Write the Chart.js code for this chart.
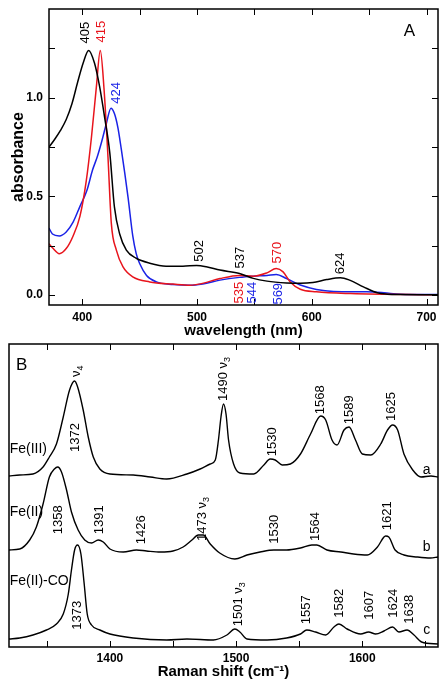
<!DOCTYPE html>
<html>
<head>
<meta charset="utf-8">
<script src="https://cdn.jsdelivr.net/npm/chart.js@4"></script>
<style>
  body { margin: 0; background: #fff; }
  canvas { display: block; }
</style>
</head>
<body>
<canvas id="uvChart" width="448" height="342"></canvas>
<canvas id="ramanChart" width="448" height="348"></canvas>
<script>
// ---- panel A: absorbance spectra ----
const wlBlack = [371,376,381,386,391,396,401,405.5,410.7,415,419.5,424,428,432.6,438.4,447,458.8,473,487.7,499.6,508,520,537,549,561,578,590,601,613,625,633,645,657,666,677,710];
const absBlack = [0.75,0.79,0.835,0.89,0.97,1.08,1.18,1.24,1.175,1.06,0.90,0.72,0.447,0.31,0.228,0.187,0.162,0.147,0.147,0.15,0.144,0.127,0.11,0.085,0.071,0.062,0.06,0.064,0.079,0.088,0.076,0.042,0.012,0.005,0.003,0.002];

const wlRed = [371,374,380,386,392,398,403.5,408,412.2,415.7,418.9,422.4,425.3,429.7,435.5,444,458.8,479,494,503,520,537,549,561,569,575,581,590,604,634,710];
const absRed = [0.26,0.24,0.21,0.236,0.30,0.40,0.58,0.80,1.05,1.24,1.05,0.70,0.365,0.228,0.143,0.093,0.067,0.056,0.05,0.057,0.084,0.10,0.096,0.113,0.135,0.118,0.068,0.03,0.017,0.008,0.002];

const wlBlue = [371,374,380,386,392,398,404,409,413,417,421,425,428,431,434,437,440,444,447,450,456,464.6,479,494,505,520,537,549,561,569,578,590,604,619,648,663,677,710];
const absBlue = [0.34,0.31,0.30,0.32,0.37,0.45,0.53,0.635,0.70,0.78,0.87,0.947,0.92,0.85,0.74,0.62,0.49,0.30,0.21,0.16,0.10,0.067,0.054,0.05,0.057,0.076,0.09,0.096,0.10,0.105,0.084,0.051,0.029,0.019,0.017,0.012,0.005,0.003];

const wlTicks = [400, 500, 600, 700];
const wlMinorTicks = [400, 450, 500, 550, 600, 650, 700];
const absTicks = [0, 0.5, 1.0];
const absMinorTicks = [0, 0.25, 0.5, 0.75, 1.0, 1.25];

// peak labels (text, position in data units, which curve, above/below)
const uvPeakText = ['405', '415', '424', '502', '537', '570', '624', '535', '544', '569'];
const uvPeakX = [403, 417, 430, 502, 538, 570, 625, 537, 548.5, 571];
const uvPeakY = [1.275, 1.28, 0.97, 0.169, 0.135, 0.16, 0.106, 0.068, 0.068, 0.062];
const uvPeakCurve = [0, 1, 2, 0, 0, 1, 0, 1, 2, 2];
const uvPeakSide = ['up', 'up', 'up', 'up', 'up', 'up', 'up', 'down', 'down', 'down'];

// ---- panel B: resonance Raman, offset traces ----
const shiftA = [1320,1328.5,1339,1347,1352,1357.6,1363,1368,1372,1374.4,1378.8,1382.8,1386.8,1392,1400,1418.5,1432,1445,1461,1471.5,1479.5,1483.5,1486,1488,1490,1492,1494,1498,1503,1514,1522,1527,1531,1536.5,1543,1551,1559,1567,1571,1576,1580,1585.5,1589.5,1594.6,1600,1606.7,1614.6,1620,1624,1628,1633,1640,1646.5,1654.4,1660];
const intA = [171,172,173,180,190,203,230,257,266,260,237,210,190,178,173,172,170,168,173,178,183,187,207,230,243,233,207,183,174,173,182,188,187,182,183,193,213,231,227,207,202,217,220,207,193,192,203,217,222,217,193,177,170,171,170];

const shiftB = [1320,1328.5,1336.4,1341.7,1347,1352,1356,1358.6,1361.6,1365.6,1369.5,1374.8,1380,1385.4,1390.7,1394.7,1400,1410.6,1421,1429,1440,1450,1458,1465,1470,1474,1479.5,1487,1499,1508.6,1519,1530,1540,1551,1560,1564,1572,1583,1593,1604,1612,1618.5,1621,1626,1633,1643.6,1654,1660];
const intB = [97,98,107,120,143,170,178,180,175,157,135,117,107,104,107,105,98,95,97,96,95,96,100,107,112,112,103,94,88,92,95,97,97,99,102,102,97,95,93,92,100,111,110,97,92,90,89,90];

const shiftC = [1320,1328.5,1339,1349.7,1357.6,1363,1367,1369.5,1372,1374.3,1377,1379.6,1382,1385.4,1392,1400,1418.5,1445,1461,1482,1492.7,1499,1503,1508.6,1524.5,1540,1551,1556,1563,1571,1577.5,1581.5,1588,1598.7,1605,1610.6,1617.2,1624,1629,1635.5,1641,1647,1660];
const intC = [8,9,12,17,23,33,53,77,97,102,93,63,33,22,17,13,9,7,8,7,12,18,15,8,7,9,13,17,15,12,20,23,18,13,15,13,16,20,15,17,12,5,3];

const ramanTicks = [1400, 1500, 1600];
const ramanMinorTicks = [1350, 1400, 1450, 1500, 1550, 1600, 1650];

const ramanPeakText = ['ν4','1372','1490 ν3','1530','1568','1589','1625','1358','1391','1426','1473 ν3','1530','1564','1621','1373','1501 ν3','1557','1582','1607','1624','1638'];
const ramanPeakX = [1373.5,1373,1490,1528.5,1567,1589.5,1623,1359,1391.5,1425,1473,1530,1563,1620,1374,1502,1556,1581.5,1606,1625,1637];
const ramanPeakY = [270,195,246,190.7,232.7,222.7,226,112.7,112.7,102.7,106,103.3,106,116.7,17.3,20.7,22.7,29.3,27.3,29.3,23.3];

const traceNames = ['Fe(III)', 'Fe(II)', 'Fe(II)-CO'];
const traceNameY = [198.3, 135, 66];
const traceTags = ['a', 'b', 'c'];
const traceTagY = [176.7, 100, 17.3];

const FONT = '"Liberation Sans", Arial, sans-serif';
const curveColors = ['#000000', '#e8141c', '#1a22e6'];

Chart.defaults.font.family = FONT;
Chart.defaults.color = '#000';

const pts = (xs, ys) => xs.map((x, i) => ({ x: x, y: ys[i] }));

// box round the plot with inward ticks on all sides
const frameTicks = {
  id: 'frameTicks',
  afterDatasetsDraw(chart, args, opts) {
    const { ctx, chartArea: a, scales } = chart;
    const len = opts.len;
    ctx.save();
    ctx.strokeStyle = '#000';
    ctx.lineWidth = 1;
    ctx.beginPath();
    (opts.xTicks || []).forEach(v => {
      const p = Math.round(scales.x.getPixelForValue(v)) + 0.5;
      ctx.moveTo(p, a.bottom); ctx.lineTo(p, a.bottom - len);
      ctx.moveTo(p, a.top); ctx.lineTo(p, a.top + len);
    });
    (opts.yTicks || []).forEach(v => {
      const p = Math.round(scales.y.getPixelForValue(v)) + 0.5;
      ctx.moveTo(a.left, p); ctx.lineTo(a.left + len, p);
      ctx.moveTo(a.right, p); ctx.lineTo(a.right - len, p);
    });
    ctx.stroke();
    ctx.lineWidth = 1.5;
    ctx.strokeRect(a.left, a.top, a.right - a.left, a.bottom - a.top);
    ctx.restore();
  }
};

function drawRotated(ctx, text, x, y, side, size) {
  const m = text.match(/^(.*ν)(\d)$/);
  const main = m ? m[1] : text;
  const sub = m ? m[2] : '';
  ctx.save();
  ctx.translate(x, y);
  ctx.rotate(-Math.PI / 2);
  ctx.textBaseline = 'middle';
  ctx.textAlign = 'left';
  ctx.font = size + 'px ' + FONT;
  const wMain = ctx.measureText(main).width;
  ctx.font = Math.round(size * 0.7) + 'px ' + FONT;
  const wSub = sub ? ctx.measureText(sub).width : 0;
  const start = side === 'down' ? -(wMain + wSub) : 0;
  ctx.font = size + 'px ' + FONT;
  ctx.fillText(main, start, 0);
  if (sub) {
    ctx.font = Math.round(size * 0.7) + 'px ' + FONT;
    ctx.fillText(sub, start + wMain, 4);
  }
  ctx.restore();
}

const textLabels = {
  id: 'textLabels',
  afterDatasetsDraw(chart, args, opts) {
    const { ctx, scales } = chart;
    (opts.rotated || []).forEach(it => {
      ctx.fillStyle = it.color;
      drawRotated(ctx, it.text, scales.x.getPixelForValue(it.x), scales.y.getPixelForValue(it.y), it.side, opts.size);
    });
    (opts.flat || []).forEach(it => {
      ctx.save();
      ctx.fillStyle = '#000';
      ctx.font = it.size + 'px ' + FONT;
      ctx.textAlign = it.align;
      ctx.textBaseline = 'middle';
      ctx.fillText(it.text, scales.x.getPixelForValue(it.x), scales.y.getPixelForValue(it.y));
      ctx.restore();
    });
  }
};

const uvRotated = uvPeakText.map((t, i) => ({
  text: t, x: uvPeakX[i], y: uvPeakY[i], side: uvPeakSide[i], color: curveColors[uvPeakCurve[i]]
}));

new Chart(document.getElementById('uvChart'), {
  type: 'line',
  data: {
    datasets: [
      { label: 'Fe(III)', data: pts(wlBlack, absBlack), borderColor: curveColors[0] },
      { label: 'Fe(II)-CO', data: pts(wlRed, absRed), borderColor: curveColors[1] },
      { label: 'Fe(II)', data: pts(wlBlue, absBlue), borderColor: curveColors[2] },
    ],
  },
  options: {
    responsive: false,
    animation: false,
    layout: { padding: { left: 0, right: 10, top: 9, bottom: 0 } },
    elements: {
      point: { radius: 0 },
      line: { borderWidth: 1.5, cubicInterpolationMode: 'monotone', fill: false },
    },
    scales: {
      x: {
        type: 'linear',
        min: 371,
        max: 710,
        grid: { display: false, drawTicks: false },
        border: { display: false },
        afterBuildTicks: s => { s.ticks = wlTicks.map(v => ({ value: v })); },
        afterFit: s => { s.height = 37; s.paddingLeft = 0; s.paddingRight = 0; },
        ticks: { padding: 5, font: { size: 12, weight: 'bold' }, callback: v => String(v) },
        title: { display: true, text: 'wavelength (nm)', font: { size: 15, weight: 'bold' }, padding: { top: 0, bottom: 2 } },
      },
      y: {
        min: -0.05,
        max: 1.45,
        grid: { display: false, drawTicks: false },
        border: { display: false },
        afterBuildTicks: s => { s.ticks = absTicks.map(v => ({ value: v })); },
        afterFit: s => { s.width = 49; s.paddingTop = 0; s.paddingBottom = 0; },
        ticks: { padding: 6, font: { size: 12, weight: 'bold' }, callback: v => v.toFixed(1) },
        title: { display: true, text: 'absorbance', font: { size: 16, weight: 'bold' }, padding: { top: 9, bottom: 0 } },
      },
    },
    plugins: {
      legend: { display: false },
      tooltip: { enabled: false },
      frameTicks: { xTicks: wlMinorTicks, yTicks: absMinorTicks, len: 6 },
      textLabels: {
        size: 13,
        rotated: uvRotated,
        flat: [{ text: 'A', x: 685, y: 1.337, size: 17, align: 'center' }],
      },
    },
  },
  plugins: [frameTicks, textLabels],
});

const ramanRotated = ramanPeakText.map((t, i) => ({
  text: t, x: ramanPeakX[i], y: ramanPeakY[i], side: 'up', color: '#000'
}));
const ramanFlat = [{ text: 'B', x: 1330, y: 281.7, size: 17, align: 'center' }];
traceNames.forEach((t, i) => ramanFlat.push({ text: t, x: 1320.5, y: traceNameY[i], size: 14, align: 'left' }));
traceTags.forEach((t, i) => ramanFlat.push({ text: t, x: 1651, y: traceTagY[i], size: 14, align: 'center' }));

new Chart(document.getElementById('ramanChart'), {
  type: 'line',
  data: {
    datasets: [
      { label: 'Fe(III)', data: pts(shiftA, intA) },
      { label: 'Fe(II)', data: pts(shiftB, intB) },
      { label: 'Fe(II)-CO', data: pts(shiftC, intC) },
    ],
  },
  options: {
    responsive: false,
    animation: false,
    layout: { padding: { left: 9, right: 10, top: 2, bottom: 0 } },
    elements: {
      point: { radius: 0 },
      line: { borderWidth: 1.4, borderColor: '#000', cubicInterpolationMode: 'monotone', fill: false },
    },
    scales: {
      x: {
        type: 'linear',
        min: 1320,
        max: 1660,
        grid: { display: false, drawTicks: false },
        border: { display: false },
        afterBuildTicks: s => { s.ticks = ramanTicks.map(v => ({ value: v })); },
        afterFit: s => { s.height = 43; s.paddingLeft = 0; s.paddingRight = 0; },
        ticks: { padding: 4, font: { size: 12, weight: 'bold' }, callback: v => String(v) },
        title: { display: true, text: 'Raman shift (cm⁻¹)', font: { size: 15, weight: 'bold' }, padding: { top: 0, bottom: 9 } },
      },
      y: {
        display: false,
        min: 0,
        max: 303,
      },
    },
    plugins: {
      legend: { display: false },
      tooltip: { enabled: false },
      frameTicks: { xTicks: ramanMinorTicks, yTicks: [], len: 6 },
      textLabels: { size: 13, rotated: ramanRotated, flat: ramanFlat },
    },
  },
  plugins: [frameTicks, textLabels],
});
</script>
</body>
</html>
